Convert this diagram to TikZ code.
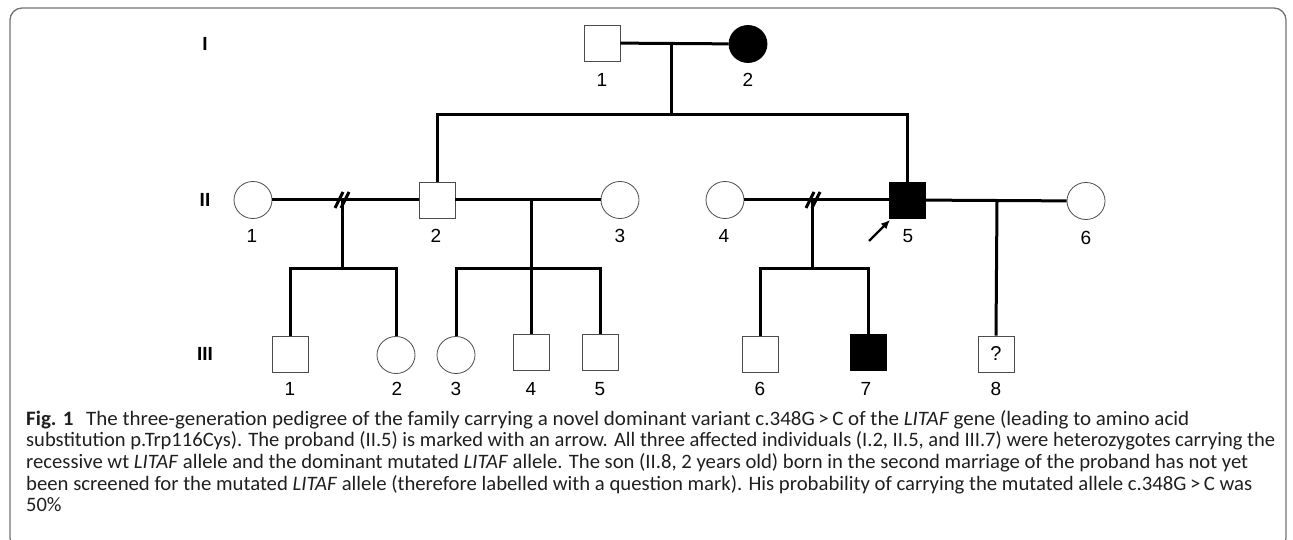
\documentclass[tikz,border=0pt]{standalone}
\usepackage{fontspec}
\setmainfont{Liberation Sans}
\newfontfamily\capfont{Carlito}
\usetikzlibrary{shapes.geometric,arrows.meta,calc}
\tikzset{
  male/.style={rectangle, draw=black!70, line width=0.8pt, minimum width=36pt, minimum height=36pt, inner sep=0pt},
  female/.style={ellipse, draw=black!70, line width=0.8pt, minimum width=38pt, minimum height=37pt, inner sep=0pt},
  aff/.style={fill=black, draw=black},
  lab/.style={font=\fontsize{19}{22}\selectfont, inner sep=0pt},
  gen/.style={font=\bfseries\fontsize{19}{22}\selectfont, inner sep=0pt},
  rel/.style={line width=3pt},
  capline/.style={anchor=base west, inner sep=0pt, text=black!88, font=\capfont\fontsize{20.5}{22}\selectfont},
}
\newcommand\fitto[2]{\resizebox{#1}{\height}{#2}}
\begin{document}
\begin{tikzpicture}[x=1pt,y=-1pt]
\useasboundingbox (0,0) rectangle (1293,540);
\clip (0,0) rectangle (1293,540);
% frame
\draw[black!55, line width=1.3pt, rounded corners=12pt] (10,8) rectangle (1286,550);

% generation labels
\node[gen] (gI) at (205,44) {I};
\node[gen] (gII) at (205,200) {II};
\node[gen] (gIII) at (205,354) {III};

% generation I
\node[male] (I1) at (602,43) {};
\node[female, aff] (I2) at (748,44) {};
\node[lab] (lI1) at (602,80) {1};
\node[lab] (lI2) at (748,80) {2};

% generation II
\node[female] (II1) at (253,200) {};
\node[male] (II2) at (437,200) {};
\node[female] (II3) at (620,200) {};
\node[female] (II4) at (725,200) {};
\node[male, aff] (II5) at (907,200) {};
\node[female] (II6) at (1086,201) {};
\node[lab] (lII1) at (252,236) {1};
\node[lab] (lII2) at (436,236) {2};
\node[lab] (lII3) at (620,236) {3};
\node[lab] (lII4) at (724,236) {4};
\node[lab] (lII5) at (908,236) {5};
\node[lab] (lII6) at (1086,238) {6};

% generation III
\node[male] (III1) at (290,354) {};
\node[female] (III2) at (396,355) {};
\node[female] (III3) at (456,355) {};
\node[male] (III4) at (531,352) {};
\node[male] (III5) at (600,352) {};
\node[male] (III6) at (760,354) {};
\node[male, aff] (III7) at (868,352) {};
\node[male, font=\fontsize{20}{22}\selectfont] (III8) at (996,354) {?};
\node[lab] (lIII1) at (290,389) {1};
\node[lab] (lIII2) at (397,389) {2};
\node[lab] (lIII3) at (456,389) {3};
\node[lab] (lIII4) at (531,389) {4};
\node[lab] (lIII5) at (600,389) {5};
\node[lab] (lIII6) at (760,389) {6};
\node[lab] (lIII7) at (866,389) {7};
\node[lab] (lIII8) at (996,389) {8};

% coordinates
\coordinate (m1) at (671,43);
\coordinate (s1) at (671,115);
\coordinate (m2) at (342,200);
\coordinate (d2) at (342,268);
\coordinate (m3) at (531,200);
\coordinate (d3) at (531,268);
\coordinate (m4) at (812,200);
\coordinate (d4) at (812,268);
\coordinate (m5) at (997,201);
\coordinate (arT) at (869,241);
\coordinate (arH) at (890,220);

% generation I marriage and sibship
\draw[rel] (I1) -- (I2);
\draw[rel] (m1) -- (s1);
\draw[rel] (II2.north) -- (II2.north |- s1) -- (II5.north |- s1) -- (II5.north);

% II.1 -- II.2 (separated)
\draw[rel] (II1) -- (II2);
\draw[rel] ($(m2)+(-7,8)$) -- ($(m2)+(1,-8)$);
\draw[rel] ($(m2)+(-1,8)$) -- ($(m2)+(7,-8)$);
\draw[rel] (m2) -- (d2);
\draw[rel] (III1.north) -- (III1.north |- d2) -- (III2.north |- d2) -- (III2.north);

% II.2 -- II.3
\draw[rel] (II2) -- (II3);
\draw[rel] (m3) -- (d3);
\draw[rel] (III3.north) -- (III3.north |- d3) -- (III5.north |- d3) -- (III5.north);
\draw[rel] (d3) -- (III4.north);

% II.4 -- II.5 (separated)
\draw[rel] (II4) -- (II5);
\draw[rel] ($(m4)+(-6,8)$) -- ($(m4)+(2,-8)$);
\draw[rel] ($(m4)+(0,8)$) -- ($(m4)+(8,-8)$);
\draw[rel] (m4) -- (d4);
\draw[rel] (III6.north) -- (III6.north |- d4) -- (III7.north |- d4) -- (III7.north);

% II.5 -- II.6
\draw[rel] (II5) -- (II6);
\draw[rel] (m5) -- (III8.north);

% proband arrow
\draw[line width=2.4pt, -{Latex[length=9pt,width=8pt]}] (arT) -- (arH);

% caption
\node[capline] (c1) at (26,425) {\fitto{1163pt}{\textbf{Fig. 1}\hspace{0.6em}The three-generation pedigree of the family carrying a novel dominant variant c.348G\,>\,C of the \textit{LITAF} gene (leading to amino acid}};
\node[capline] (c2) at (26,446.5) {\fitto{1249pt}{substitution p.Trp116Cys). The proband (II.5) is marked with an arrow. All three affected individuals (I.2, II.5, and III.7) were heterozygotes carrying the}};
\node[capline] (c3) at (26,468) {\fitto{1222pt}{recessive wt \textit{LITAF} allele and the dominant mutated \textit{LITAF} allele. The son (II.8, 2 years old) born in the second marriage of the proband has not yet}};
\node[capline] (c4) at (26,490) {\fitto{1226pt}{been screened for the mutated \textit{LITAF} allele (therefore labelled with a question mark). His probability of carrying the mutated allele c.348G\,>\,C was}};
\node[capline] (c5) at (26,511.5) {50\%};
\end{tikzpicture}
\end{document}
